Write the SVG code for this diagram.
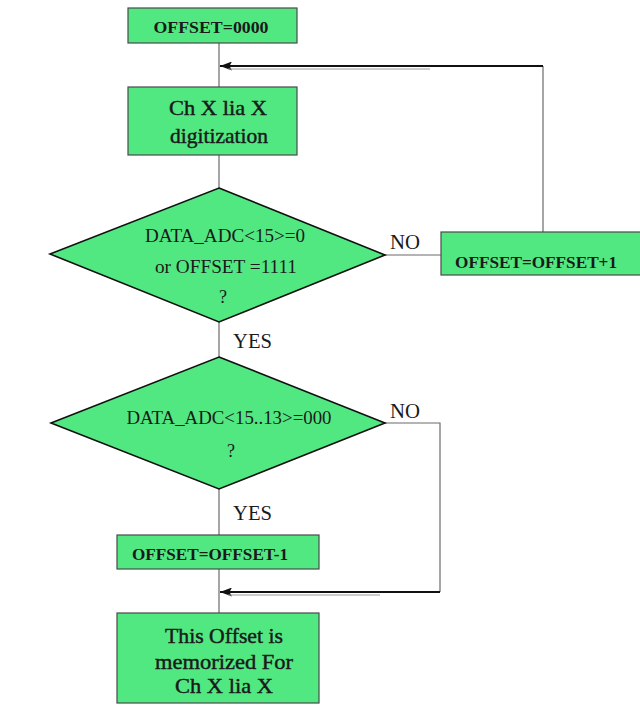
<svg xmlns="http://www.w3.org/2000/svg" width="640" height="723" viewBox="0 0 640 723">
  <style>
    .box { fill: #51e882; stroke: #4a4a4a; stroke-width: 1.2; }
    .dia { fill: #51e882; stroke: #111; stroke-width: 1.6; }
    .wire { fill: none; stroke: #6a6a6a; stroke-width: 1.2; }
    .back { fill: none; stroke: #111; stroke-width: 2.2; marker-end: url(#head); }
    .ghost { fill: none; stroke: #9a9a9a; stroke-width: 1; }
    .t { font-family: "Liberation Serif", "Times New Roman", serif; fill: #1a1a1a; text-anchor: middle; }
    .sm { font-size: 17px; font-weight: bold; }
    .lg { font-size: 22px; stroke: #1a1a1a; stroke-width: 0.45; }
    .dq { font-size: 18px; }
    .lbl { font-family: "Liberation Serif", "Times New Roman", serif; font-size: 20px; fill: #1a1a1a; }
  </style>
  <defs>
    <marker id="head" viewBox="0 0 12 9" refX="12" refY="4.5" markerWidth="12" markerHeight="9" orient="auto" markerUnits="userSpaceOnUse">
      <path d="M0,0 L12,4.5 L0,9 L2.5,4.5 z" fill="#111"/>
    </marker>
  </defs>
  <rect width="640" height="723" fill="#fff"/>

  <g id="connectors">
    <line class="wire" x1="219" y1="43" x2="219" y2="87"/>
    <line class="wire" x1="219" y1="155" x2="219" y2="188"/>
    <line class="wire" x1="385" y1="255" x2="441" y2="255"/>
    <line class="wire" x1="543" y1="232" x2="543" y2="66"/>
    <path class="back" d="M543,66 H220"/>
    <path class="ghost" d="M228,69 H430"/>
    <line class="wire" x1="219" y1="322" x2="219" y2="357"/>
    <line class="wire" x1="219" y1="489" x2="219" y2="535"/>
    <path class="wire" d="M385,423 H440 V592"/>
    <path class="back" d="M440,592 H220"/>
    <path class="ghost" d="M228,595 H380"/>
    <line class="wire" x1="219" y1="569" x2="219" y2="613"/>
    <text class="lbl" x="390" y="249" textLength="30" lengthAdjust="spacingAndGlyphs">NO</text>
    <text class="lbl" x="233" y="348" textLength="39" lengthAdjust="spacingAndGlyphs">YES</text>
    <text class="lbl" x="390" y="418" textLength="30" lengthAdjust="spacingAndGlyphs">NO</text>
    <text class="lbl" x="233" y="520" textLength="39" lengthAdjust="spacingAndGlyphs">YES</text>
  </g>

  <g id="init">
    <rect class="box" x="128" y="8" width="169" height="35"/>
    <text class="t sm" x="211" y="33" textLength="115" lengthAdjust="spacingAndGlyphs">OFFSET=0000</text>
  </g>

  <g id="digitize">
    <rect class="box" x="128" y="87" width="169" height="68"/>
    <text class="t lg" x="218" y="115" textLength="98" lengthAdjust="spacingAndGlyphs">Ch X lia X</text>
    <text class="t lg" x="219" y="143" textLength="98" lengthAdjust="spacingAndGlyphs">digitization</text>
  </g>

  <g id="check-msb">
    <polygon class="dia" points="219,188 385,255 219,322 50,254"/>
    <text class="t dq" x="225" y="242" textLength="160" lengthAdjust="spacingAndGlyphs">DATA_ADC&lt;15&gt;=0</text>
    <text class="t dq" x="226" y="273" textLength="142" lengthAdjust="spacingAndGlyphs">or  OFFSET =1111</text>
    <text class="t dq" x="223" y="303">?</text>
  </g>

  <g id="increment">
    <rect class="box" x="441" y="232" width="204" height="43"/>
    <text class="t sm" x="536" y="268" textLength="162" lengthAdjust="spacingAndGlyphs">OFFSET=OFFSET+1</text>
  </g>

  <g id="check-top-bits">
    <polygon class="dia" points="219,357 385,423 219,489 51,423"/>
    <text class="t dq" x="229" y="424" textLength="205" lengthAdjust="spacingAndGlyphs">DATA_ADC&lt;15..13&gt;=000</text>
    <text class="t dq" x="231" y="457">?</text>
  </g>

  <g id="decrement">
    <rect class="box" x="117" y="535" width="202" height="34"/>
    <text class="t sm" x="210" y="560" textLength="156" lengthAdjust="spacingAndGlyphs">OFFSET=OFFSET-1</text>
  </g>

  <g id="store">
    <rect class="box" x="117" y="613" width="202" height="90"/>
    <text class="t lg" x="224" y="643" textLength="118" lengthAdjust="spacingAndGlyphs">This Offset is</text>
    <text class="t lg" x="224" y="669" textLength="138" lengthAdjust="spacingAndGlyphs">memorized For</text>
    <text class="t lg" x="224" y="693" textLength="98" lengthAdjust="spacingAndGlyphs">Ch X lia X</text>
  </g>
</svg>
